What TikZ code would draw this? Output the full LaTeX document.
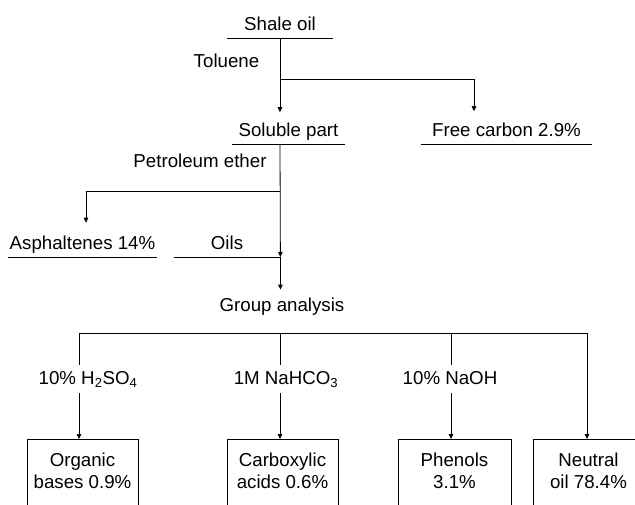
\documentclass[tikz,border=0pt]{standalone}
\usepackage{fontspec}
\setmainfont{Liberation Sans}
\usetikzlibrary{arrows.meta,calc,positioning}

\begin{document}
\begin{tikzpicture}[x=1pt,y=-1pt,line width=0.8pt,
  every node/.style={font=\fontsize{18.7}{21.5}\selectfont,inner xsep=0pt},
  lbl/.style={text height=13.5pt,text depth=4pt,inner ysep=4pt,anchor=base},
  uline/.style={text height=13.5pt,text depth=4pt,inner ysep=3.5pt,anchor=south},
  res/.style={draw,align=center,anchor=north,minimum width=111pt,inner ysep=14pt,
    execute at end node={\rule[-24pt]{0pt}{0pt}}},
  arr/.style={-{Triangle[length=5pt,width=4.5pt]}}]
  \useasboundingbox (0,0) rectangle (635,504);
  \clip (0,0) rectangle (635,504);
  % separation steps
  \node[uline,minimum width=106pt] (shale) at (280,38) {Shale oil};
  \node[lbl] (tol) at (226.5,67) {Toluene};
  \node[uline,minimum width=113pt] (soluble) at (288.5,144) {Soluble part};
  \node[uline,minimum width=171pt] (carbon) at (506.5,144) {Free carbon 2.9\%};
  \node[lbl] (petrol) at (200,167) {Petroleum ether};
  \node[uline,minimum width=149pt] (asph) at (82.5,257) {Asphaltenes 14\%};
  \node[uline,minimum width=106pt] (oils) at (227,257) {Oils};
  \node[lbl] (group) at (282,311.5) {Group analysis};
  \foreach \n in {shale,soluble,carbon,asph,oils}
    \draw (\n.south west) -- (\n.south east);
  % group analysis
  \node[lbl,inner ysep=5pt] (l1) at (88,384) {10\% H\textsubscript{2}SO\textsubscript{4}};
  \node[lbl,inner ysep=5pt] (l2) at (286,384) {1M NaHCO\textsubscript{3}};
  \node[lbl,inner ysep=5pt] (l3) at (450,384) {10\% NaOH};
  \node[res] (b1) at (82.5,439) {Organic\\bases 0.9\%};
  \node[res] (b2) at (282.5,439) {Carboxylic\\acids 0.6\%};
  \node[res,minimum width=113pt] (b3) at (454.5,439) {Phenols\\3.1\%};
  \node[res] (b4) at (588.5,439) {Neutral\\oil 78.4\%};
  \coordinate (t1) at (280,79);
  \coordinate (t1r) at (474,79);
  \coordinate (t2) at (280,191);
  \coordinate (t2l) at (86,191);
  \coordinate (g1) at (79,333);
  \coordinate (g2) at (280,333);
  \coordinate (g3) at (451,333);
  \coordinate (g4) at (587,333);
  \draw[arr,shorten >=6.5pt] (shale.south) -- (shale.south |- soluble.north);
  \draw[arr,shorten >=7.5pt] (t1) -- (t1r) -- (t1r |- carbon.north);
  \draw[arr] (t1 |- soluble.south) -- (oils.south east);
  \draw[arr,shorten >=9pt] (t2) -- (t2l) -- (t2l |- asph.north);
  \draw[arr,shorten >=4pt] (oils.south east) -- (oils.south east |- group.north);
  \draw (g1) -- (g4);
  \foreach \g/\l/\b in {g1/l1/b1,g2/l2/b2,g3/l3/b3}{
    \draw (\g) -- (\g |- \l.north);
    \draw[arr] (\g |- \l.south) -- (\g |- \b.north);
  }
  \draw[arr] (g4) -- (g4 |- b4.north);
\end{tikzpicture}
\end{document}
